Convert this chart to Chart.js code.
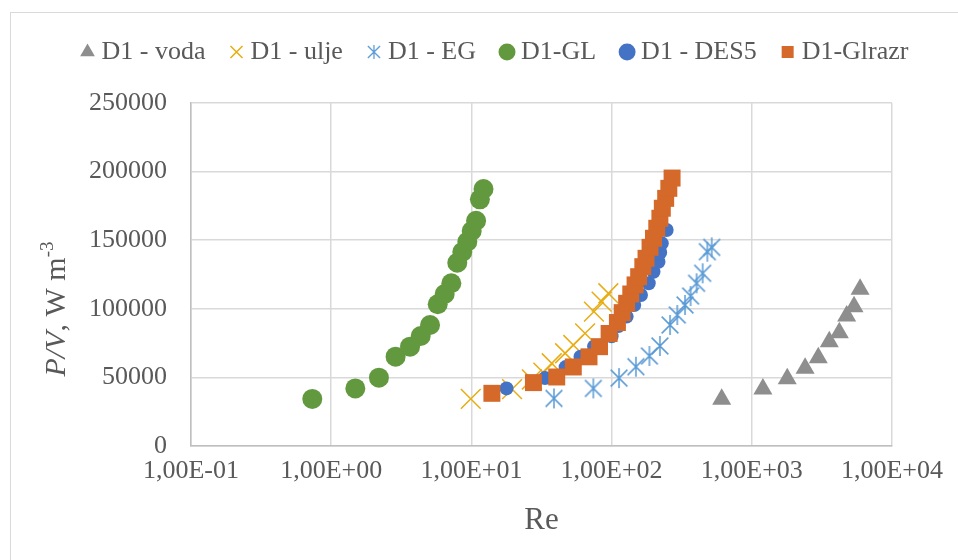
<!DOCTYPE html>
<html>
<head>
<meta charset="utf-8">
<title>P/V vs Re</title>
<script src="https://cdn.jsdelivr.net/npm/chart.js@4.4.1/dist/chart.umd.min.js"></script>
<style>
  html, body { margin: 0; padding: 0; background: #fff; }
  #wrap { position: relative; width: 958px; height: 560px; }
</style>
</head>
<body>
<div id="wrap"><canvas id="chart" width="958" height="560"></canvas></div>
<script>
// ── Podaci (očitano s grafa) ─────────────────────────────────
const seriesNames = ["D1 - voda", "D1 - ulje", "D1 - EG", "D1-GL", "D1 - DES5", "D1-Glrazr"];

const vodaRe = [610, 1200, 1790, 2400, 2980, 3570, 4210, 4750, 5360, 5920];
const vodaPV = [34000, 41500, 49000, 56600, 64400, 76000, 82600, 94800, 101500, 114200];

const uljeRe = [9.9, 19.5, 27, 32.6, 37.4, 46.6, 53.3, 64.7, 74.8, 84.9, 94.8];
const uljePV = [34300, 41500, 48500, 53500, 60300, 67600, 73600, 82100, 97900, 105200, 111300];

const egRe = [38.8, 74.1, 113, 149, 186, 221, 261, 294, 334, 366, 404, 446, 482, 518];
const egPV = [34700, 42000, 49500, 57800, 65600, 72900, 88200, 95500, 102800, 109300, 118600, 125900, 141600, 144800];

const glRe = [0.733, 1.486, 2.19, 2.88, 3.65, 4.35, 5.07, 5.75, 6.45, 7.19, 7.93, 8.61, 9.35, 10.05, 10.8, 11.5, 12.2];
const glPV = [34300, 42000, 49800, 65100, 72400, 80200, 88200, 103300, 110800, 118600, 133600, 141400, 148900, 156700, 164200, 179800, 187300];

const desRe = [17.8, 33.5, 47, 60, 75, 100, 112, 128, 145, 162, 184, 199, 216, 222, 228, 247];
const desPV = [42000, 49500, 57500, 65000, 72500, 80000, 87500, 94300, 102800, 110100, 118600, 127000, 134300, 141000, 147700, 157400];

const glrazrRe = [14, 27.7, 40.6, 53.3, 69, 82, 96, 110, 119, 128, 137, 147, 156, 167, 176, 188, 199, 210, 221, 230, 243, 256, 270];
const glrazrPV = [38400, 46200, 50300, 57600, 65000, 72400, 82000, 90000, 97200, 104000, 110800, 117400, 123400, 130700, 136800, 144800, 151400, 158700, 166000, 173300, 180500, 187800, 195300];

const xTicks = [0.1, 1, 10, 100, 1000, 10000];
const yTicks = [0, 50000, 100000, 150000, 200000, 250000];

// ── Pomoćne funkcije ─────────────────────────────────────────
const pts = (xs, ys) => xs.map((x, i) => ({ x: x, y: ys[i] }));

// Excel format 1,00E+02
function sciLabel(v) {
  const [m, e] = v.toExponential(2).split("e");
  const n = parseInt(e, 10);
  const ee = (n < 0 ? "-" : "+") + String(Math.abs(n)).padStart(2, "0");
  return m.replace(".", ",") + "E" + ee;
}

// zvjezdica kao u Excelu (okomita crta + X)
function makeAsterisk(size, color, lw) {
  const c = document.createElement("canvas");
  c.width = c.height = size;
  const g = c.getContext("2d");
  g.strokeStyle = color;
  g.lineWidth = lw;
  const m = size / 2, d = size * 0.38;
  g.beginPath();
  g.moveTo(m, 1); g.lineTo(m, size - 1);
  g.moveTo(m - d, m - d); g.lineTo(m + d, m + d);
  g.moveTo(m + d, m - d); g.lineTo(m - d, m + d);
  g.stroke();
  return c;
}

const EG_COLOR = "#5b9bd5";
const egMarker = makeAsterisk(22, EG_COLOR, 1.5);
const egLegendMarker = makeAsterisk(16, EG_COLOR, 1.3);

const FONT = "'Liberation Serif', 'Times New Roman', serif";
const TXT = "#595959";

// ── Pluginovi ────────────────────────────────────────────────
// okvir grafa
const framePlugin = {
  id: "frame",
  beforeDraw(chart) {
    const ctx = chart.ctx;
    ctx.save();
    ctx.strokeStyle = "#d9d9d9";
    ctx.lineWidth = 1;
    ctx.strokeRect(10.5, 12.5, 2000, 2000);
    ctx.restore();
  }
};

// legenda je viša nego što Chart.js računa -> razmak do područja crtanja
const legendSpacer = {
  id: "legendSpacer",
  afterInit(chart) {
    const lg = chart.legend;
    if (!lg || lg._spaced) return;
    const fit = lg.fit;
    lg.fit = function () {
      fit.call(this);
      this.height += 28;
    };
    lg._spaced = true;
  }
};

// naslov osi Y: P/V kurziv, m^-3
const yTitlePlugin = {
  id: "yTitle",
  afterDraw(chart) {
    const ctx = chart.ctx;
    const parts = [
      ["P/V", "italic 30px " + FONT, 0],
      [", W m", "30px " + FONT, 0],
      ["-3", "19px " + FONT, -12]
    ];
    ctx.save();
    ctx.translate(55, 309);
    ctx.rotate(-Math.PI / 2);
    ctx.fillStyle = TXT;
    ctx.textBaseline = "alphabetic";
    let total = 0;
    parts.forEach(p => { ctx.font = p[1]; total += ctx.measureText(p[0]).width; });
    let x = -total / 2;
    parts.forEach(p => {
      ctx.font = p[1];
      ctx.fillText(p[0], x, 10 + p[2]);
      x += ctx.measureText(p[0]).width;
    });
    ctx.restore();
  }
};

// ── Graf ─────────────────────────────────────────────────────
// redoslijed obrnut da bi Glrazr bio nacrtan navrh (legenda se okreće natrag)
new Chart(document.getElementById("chart"), {
  type: "scatter",
  data: {
    datasets: [
      { label: seriesNames[5], data: pts(glrazrRe, glrazrPV), pointStyle: "rect", pointRadius: 12,
        backgroundColor: "#d4692a", borderColor: "#d4692a", borderWidth: 0 },
      { label: seriesNames[4], data: pts(desRe, desPV), pointStyle: "circle", pointRadius: 7,
        backgroundColor: "#4472c4", borderColor: "#4472c4", borderWidth: 0 },
      { label: seriesNames[3], data: pts(glRe, glPV), pointStyle: "circle", pointRadius: 10,
        backgroundColor: "#62993e", borderColor: "#62993e", borderWidth: 0 },
      { label: seriesNames[2], data: pts(egRe, egPV), pointStyle: egMarker,
        backgroundColor: EG_COLOR, borderColor: EG_COLOR, borderWidth: 1.5 },
      { label: seriesNames[1], data: pts(uljeRe, uljePV), pointStyle: "crossRot", pointRadius: 14,
        backgroundColor: "#e8ad12", borderColor: "#e8ad12", borderWidth: 1.5 },
      { label: seriesNames[0], data: pts(vodaRe, vodaPV), pointStyle: "triangle", pointRadius: 11,
        backgroundColor: "#8e8e8e", borderColor: "#8e8e8e", borderWidth: 0 }
    ]
  },
  options: {
    responsive: false,
    animation: false,
    devicePixelRatio: 1,
    events: [],
    layout: { padding: { left: 37, right: 0, top: 9, bottom: 0 } },
    plugins: {
      tooltip: { enabled: false },
      legend: {
        position: "top",
        reverse: true,
        labels: {
          usePointStyle: true,
          boxWidth: 2,
          boxHeight: 12,
          padding: 30,
          color: TXT,
          font: { family: FONT, size: 26 },
          generateLabels(chart) {
            const items = Chart.defaults.plugins.legend.labels.generateLabels(chart);
            items.forEach(it => { if (it.text === "D1 - EG") it.pointStyle = egLegendMarker; });
            return items;
          }
        }
      }
    },
    scales: {
      x: {
        type: "logarithmic",
        min: 0.1,
        max: 10000,
        afterBuildTicks(scale) { scale.ticks = xTicks.map(v => ({ value: v })); },
        afterFit(scale) { scale.height = 114; scale.paddingLeft = 0; scale.paddingRight = 66; },
        ticks: {
          autoSkip: false,
          maxRotation: 0,
          padding: 10,
          color: TXT,
          font: { family: FONT, size: 26 },
          callback: v => sciLabel(v)
        },
        grid: { color: "#d9d9d9", lineWidth: 1.5, drawTicks: false },
        border: { color: "#bfbfbf", width: 1.5 },
        title: {
          display: true,
          text: "Re",
          color: TXT,
          font: { family: FONT, size: 31 },
          padding: { top: 0, bottom: 21 }
        }
      },
      y: {
        min: 0,
        max: 250000,
        afterBuildTicks(scale) { scale.ticks = yTicks.map(v => ({ value: v })); },
        afterFit(scale) { scale.width = 154; scale.paddingTop = 103; },
        ticks: {
          padding: 24,
          color: TXT,
          font: { family: FONT, size: 26 },
          callback: v => String(v)
        },
        grid: { color: "#d9d9d9", lineWidth: 1.5, drawTicks: false },
        border: { color: "#bfbfbf", width: 1.5 }
      }
    }
  },
  plugins: [framePlugin, legendSpacer, yTitlePlugin]
});
</script>
</body>
</html>
